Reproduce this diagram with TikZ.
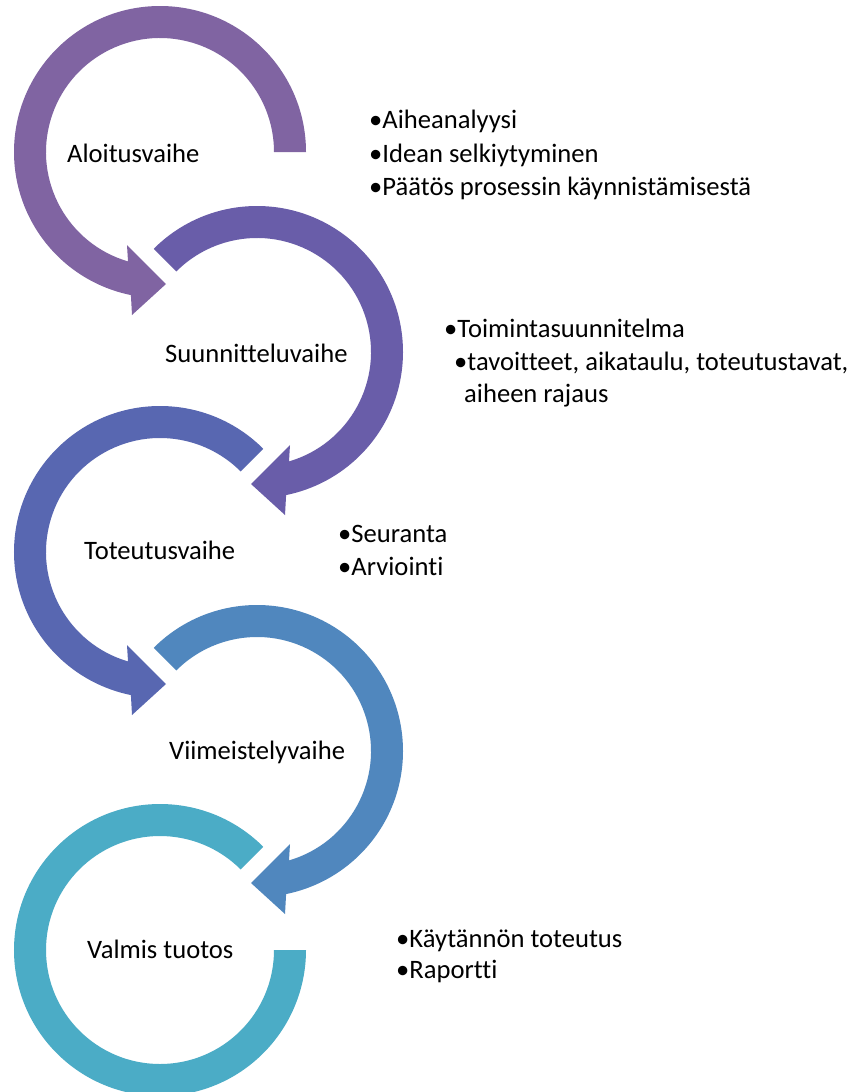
\documentclass[tikz,border=0pt]{standalone}
\usepackage{fontspec}
\setmainfont{Carlito}[Ligatures={NoCommon}]
\definecolor{cA}{HTML}{8064A2}
\definecolor{cB}{HTML}{695DA9}
\definecolor{cC}{HTML}{5867B1}
\definecolor{cD}{HTML}{5087BE}
\definecolor{cE}{HTML}{4BACC6}
\tikzset{
  lbl/.style={anchor=base west, inner sep=0pt, font=\fontsize{26.6}{31}\selectfont},
}
\newcommand\circarrow[5]{% cx, cy(screen), xscale, start angle, colour
  \begin{scope}[shift={(#1,-#2)}, xscale=#3]
    \fill[#5] (#4:146) arc[start angle=#4, end angle=258.5, radius=146pt]
      -- (-28,-163) -- (6,-132) -- (-33,-93) -- (253.7:114)
      arc[start angle=253.7, end angle=#4, radius=114pt] -- cycle;
  \end{scope}}
\begin{document}
\begin{tikzpicture}[x=1pt,y=1pt]
\clip (0,0) rectangle (858,-1092);
\fill[white] (0,0) rectangle (858,-1092);
% arrows
\circarrow{160}{152}{1}{0}{cA}
\circarrow{257}{352}{-1}{45}{cB}
\circarrow{160}{552}{1}{45}{cC}
\circarrow{257}{751}{-1}{45}{cD}
\begin{scope}[shift={(160,-950)}]
  \fill[cE] (45:146) arc[start angle=45, end angle=360, radius=146pt]
    -- (0:114) arc[start angle=360, end angle=45, radius=114pt] -- cycle;
\end{scope}
% labels in circles
\node[lbl] (l1) at (67,-162) {Aloitusvaihe};
\node[lbl] (l2) at (165,-362) {Suunnitteluvaihe};
\node[lbl] (l3) at (84,-559) {Toteutusvaihe};
\node[lbl] (l4) at (169,-759) {Viimeistelyvaihe};
\node[lbl] (l5) at (87,-958) {Valmis tuotos};
% bullet texts
\node[lbl] (t11) at (369,-128) {•Aiheanalyysi};
\node[lbl] (t12) at (369,-162) {•Idean selkiytyminen};
\node[lbl] (t13) at (369,-195) {•Päätös prosessin käynnistämisestä};
\node[lbl] (t21) at (444,-337) {•Toimintasuunnitelma};
\node[lbl] (t22) at (454,-370) {•tavoitteet, aikataulu, toteutustavat,};
\node[lbl] (t23) at (464,-402) {aiheen rajaus};
\node[lbl] (t31) at (338,-542) {•Seuranta};
\node[lbl] (t32) at (338,-575) {•Arviointi};
\node[lbl] (t41) at (396,-947) {•Käytännön toteutus};
\node[lbl] (t42) at (396,-978) {•Raportti};
\end{tikzpicture}
\end{document}
